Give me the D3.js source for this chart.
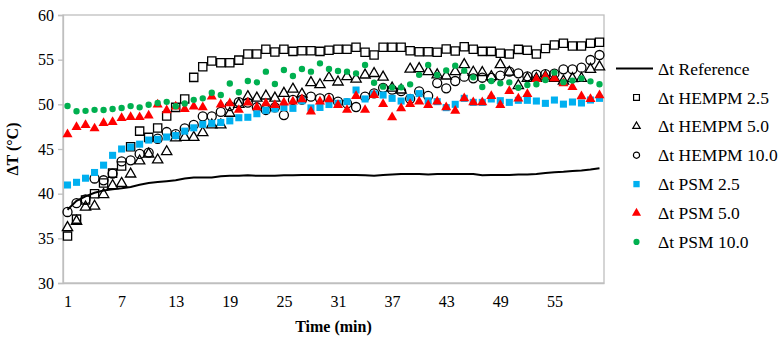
<!DOCTYPE html>
<html><head><meta charset="utf-8">
<script src="https://cdn.jsdelivr.net/npm/d3@7/dist/d3.min.js"></script>
<style>
body{margin:0;background:#fff;}
svg text{font-family:"Liberation Serif","Times New Roman",serif !important;fill:#000;}
</style></head><body>
<svg id="chart" width="783" height="337"></svg>
<script>
const time = [1,2,3,4,5,6,7,8,9,10,11,12,13,14,15,16,17,18,19,20,21,22,23,24,25,26,27,28,29,30,31,32,33,34,35,36,37,38,39,40,41,42,43,44,45,46,47,48,49,50,51,52,53,54,55,56,57,58,59,60];
const xTickLabels = [1,7,13,19,25,31,37,43,49,55];
const yTickValues = [30,35,40,45,50,55,60];

const reference = [38.2,39.2,39.7,40.1,40.35,40.5,40.6,40.75,41.0,41.2,41.3,41.4,41.5,41.7,41.8,41.8,41.8,41.95,42.0,42.0,42.05,42.0,42.0,42.0,42.05,42.05,42.1,42.1,42.1,42.1,42.1,42.1,42.1,42.05,42.0,42.1,42.15,42.2,42.2,42.2,42.15,42.2,42.2,42.2,42.2,42.2,42.05,42.1,42.1,42.1,42.15,42.15,42.2,42.3,42.4,42.45,42.55,42.6,42.7,42.85];
const hempm25 = [35.25,37.15,39.3,40.0,41.2,42.3,43.1,45.26,47.0,46.3,47.35,48.7,49.66,50.6,53.02,54.2,54.85,54.65,54.65,54.95,55.63,55.63,56.16,55.86,56.16,55.93,56.0,56.0,55.93,56.05,56.16,56.16,56.38,55.82,55.52,56.38,56.38,56.38,56.0,55.88,55.88,55.84,56.2,55.97,56.45,56.16,55.93,55.93,55.71,55.63,56.15,56.05,55.63,56.25,56.64,56.83,56.53,56.53,56.83,56.94];
const hempm50 = [36.2,36.9,38.5,38.6,39.9,40.9,41.15,42.2,43.66,44.44,43.77,44.7,46.25,46.3,46.3,46.83,47.69,47.7,49.0,50.0,50.86,50.7,50.93,50.7,51.23,51.7,51.14,52.43,52.2,52.98,52.5,53.1,52.83,53.28,53.45,53.05,51.82,51.6,53.94,54.0,53.66,53.3,53.17,53.66,54.45,53.6,53.56,53.1,54.45,53.6,52.1,52.9,52.9,53.1,52.9,52.6,52.88,52.9,53.92,54.2];
const hempm100 = [37.95,38.95,39.35,41.7,41.5,42.25,43.62,43.73,44.45,44.6,46.15,46.9,46.66,47.3,47.69,48.66,48.66,49.15,49.8,50.25,50.2,49.67,49.37,49.67,48.8,50.5,50.52,50.86,50.67,50.72,50.3,50.1,49.7,50.86,51.23,51.85,51.64,51.47,50.62,51.45,50.95,52.38,51.79,52.61,53.1,52.91,52.98,52.95,53.22,53.66,53.47,53.13,53.33,53.39,53.43,53.92,53.92,54.1,54.96,55.52];
const psm25 = [40.97,41.27,41.73,42.37,43.19,44.29,45.0,45.22,45.54,46.0,46.08,46.34,46.5,47.0,47.37,47.76,47.87,47.97,48.15,48.5,48.55,48.95,49.33,49.5,49.65,49.55,50.4,49.6,49.65,49.98,50.11,50.3,51.6,50.6,51.16,51.04,50.67,50.37,50.75,51.2,50.39,50.3,49.63,50.0,50.67,50.22,50.22,50.6,50.41,50.22,50.45,50.45,50.37,50.11,50.48,50.02,50.26,50.15,50.48,50.67];
const psm50 = [46.65,47.45,47.67,47.3,47.9,48.02,48.46,48.58,48.56,48.73,49.97,49.33,49.74,49.46,49.74,49.66,50.86,49.97,50.1,49.37,50.19,49.66,50.11,49.92,50.19,50.3,50.56,49.18,50.3,50.56,49.92,49.37,50.93,49.37,51.04,50.04,48.54,49.55,50.04,50.3,49.92,50.3,49.66,49.28,50.67,50.22,50.22,50.93,49.92,51.49,50.64,51.14,52.82,53.1,52.91,52.35,51.94,50.9,50.6,51.0];
const psm100 = [49.81,49.23,49.27,49.38,49.37,49.48,49.59,49.8,49.66,49.96,50.15,50.28,49.78,50.1,50.5,50.67,51.3,51.04,52.33,51.36,52.61,52.46,53.66,52.27,53.84,53.17,53.95,53.66,54.59,53.95,53.73,53.66,53.47,54.4,52.42,51.98,51.9,51.9,52.24,53.3,54.4,53.28,53.8,54.33,53.77,53.02,51.94,52.61,52.35,52.46,51.85,52.16,52.25,52.72,53.55,52.48,52.66,52.91,52.57,52.25];

const seriesNames = ["\u0394t Reference","\u0394t HEMPM 2.5","\u0394t HEMPM 5.0","\u0394t HEMPM 10.0","\u0394t PSM 2.5","\u0394t PSM 5.0","\u0394t PSM 10.0"];

const FONT = '"Liberation Serif","Times New Roman",serif';
const svg = d3.select("#chart");
const L = 63, R = 604, T = 15, B = 283;
const x = d3.scalePoint().domain(time).range([L, R]).padding(0.5);
const y = d3.scaleLinear().domain([30, 60]).range([B, T]);

// plot border
svg.append("rect").attr("x", L).attr("y", T).attr("width", R - L).attr("height", B - T)
  .attr("fill", "none").attr("stroke", "#bfbfbf").attr("stroke-width", 1.3);

// y axis
const yAxis = d3.axisLeft(y).tickValues(yTickValues).tickSize(5).tickPadding(4);
const gy = svg.append("g").attr("transform", `translate(${L},0)`).call(yAxis)
  .attr("font-family", FONT);
gy.select(".domain").attr("stroke", "#bfbfbf").attr("stroke-width", 1.3);
gy.selectAll(".tick line").attr("stroke", "#bfbfbf").attr("stroke-width", 1.3);
gy.selectAll("text").style("font-family", FONT).style("font-size", "16px").attr("fill", "#000");

// x axis
const xAxis = d3.axisBottom(x).tickValues(xTickLabels).tickSize(0).tickPadding(13);
const gx = svg.append("g").attr("transform", `translate(0,${B})`).call(xAxis)
  .attr("font-family", FONT);
gx.select(".domain").attr("stroke", "#bfbfbf").attr("stroke-width", 1.3);
gx.selectAll("text").style("font-family", FONT).style("font-size", "16px").attr("fill", "#000");

// axis titles
svg.append("text").attr("x", (L + R) / 2).attr("y", 332).attr("text-anchor", "middle")
  .style("font-family", FONT).style("font-size", "16px").attr("font-weight", "bold").text("Time (min)");
svg.append("text").attr("transform", `translate(18,${(T + B) / 2}) rotate(-90)`).attr("text-anchor", "middle")
  .style("font-family", FONT).style("font-size", "16px").attr("font-weight", "bold").text("\u0394T (\u00B0C)");

// reference line
const line = d3.line().x((d, i) => x(time[i])).y(d => y(d));
svg.append("path").datum(reference).attr("d", line).attr("fill", "none")
  .attr("stroke", "#000").attr("stroke-width", 2);

const markerSeries = [
  {data: hempm25, type: d3.symbolSquare, size: 68, fill: "none", stroke: "#000", lsize: 34},
  {data: hempm50, type: d3.symbolTriangle, size: 46, fill: "none", stroke: "#000", lsize: 24},
  {data: hempm100, type: d3.symbolCircle, size: 64, fill: "none", stroke: "#000", lsize: 30},
  {data: psm25, type: d3.symbolSquare, size: 50, fill: "#00B0F0", stroke: "none", lsize: 40},
  {data: psm50, type: d3.symbolTriangle, size: 44, fill: "#FF0000", stroke: "none", lsize: 36},
  {data: psm100, type: d3.symbolCircle, size: 32, fill: "#00B050", stroke: "none", lsize: 30}
];

markerSeries.forEach(s => {
  svg.append("g").selectAll("path").data(s.data).join("path")
    .attr("transform", (d, i) => `translate(${x(time[i])},${y(d)})`)
    .attr("d", d3.symbol().type(s.type).size(s.size))
    .attr("fill", s.fill).attr("stroke", s.stroke).attr("stroke-width", 1.3);
});

// legend
const lg = svg.append("g");
const ly0 = 68.5, ldy = 28.9;
lg.append("line").attr("x1", 616).attr("x2", 653).attr("y1", ly0).attr("y2", ly0)
  .attr("stroke", "#000").attr("stroke-width", 2);
markerSeries.forEach((s, k) => {
  lg.append("path").attr("transform", `translate(636.5,${ly0 + (k + 1) * ldy})`)
    .attr("d", d3.symbol().type(s.type).size(s.lsize))
    .attr("fill", s.fill).attr("stroke", s.stroke).attr("stroke-width", 1.2);
});
seriesNames.forEach((n, k) => {
  lg.append("text").attr("x", 658).attr("y", ly0 + k * ldy).attr("dy", "0.35em")
    .style("font-family", FONT).style("font-size", "17.5px").text(n);
});
</script>
</body></html>
